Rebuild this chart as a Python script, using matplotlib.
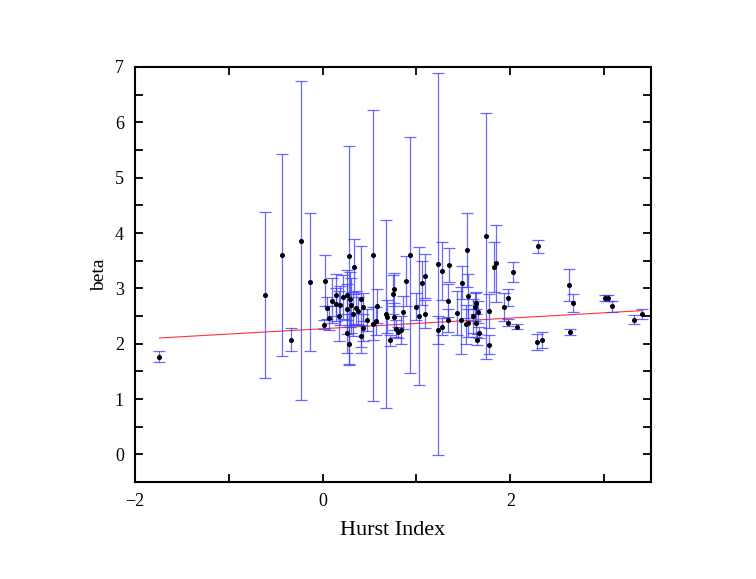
import matplotlib
matplotlib.use('Agg')
import matplotlib.pyplot as plt
from matplotlib.ticker import MultipleLocator
import numpy as np

# data -----------------------------------------------------------------------
hurst = [-1.74, -0.61, -0.43, -0.34, -0.23, -0.135, 0.02, 0.01, 0.05, 0.07,
         0.10, 0.14, 0.14, 0.17, 0.18, 0.22, 0.255, 0.28, 0.29, 0.30,
         0.255, 0.28, 0.26, 0.32, 0.33, 0.36, 0.375, 0.41, 0.41, 0.43,
         0.43, 0.47, 0.54, 0.535, 0.58, 0.57, 0.68, 0.69, 0.75, 0.76,
         0.76, 0.72, 0.78, 0.80, 0.855, 0.84, 0.89, 0.93, 1.00, 1.03,
         1.06, 1.09, 1.09, 1.23, 1.23, 1.27, 1.27, 1.34, 1.34, 1.35,
         1.43, 1.47, 1.49, 1.54, 1.55, 1.53, 1.55, 1.60, 1.62, 1.64,
         1.63, 1.66, 1.67, 1.65, 1.74, 1.77, 1.77, 1.83, 1.85, 1.93,
         1.98, 1.98, 2.03, 2.07, 2.30, 2.29, 2.34, 2.63, 2.67, 2.64,
         3.01, 3.04, 3.08, 3.32, 3.40]
beta = [1.76, 2.88, 3.60, 2.07, 3.86, 3.11, 3.14, 2.34, 2.64, 2.46,
        2.78, 2.88, 2.71, 2.50, 2.69, 2.85, 2.88, 3.59, 2.80, 2.69,
        2.19, 1.99, 2.62, 2.54, 3.39, 2.65, 2.59, 2.80, 2.14, 2.66,
        2.29, 2.43, 3.60, 2.36, 2.68, 2.41, 2.53, 2.49, 2.89, 2.98,
        2.49, 2.06, 2.27, 2.21, 2.57, 2.25, 3.13, 3.60, 2.67, 2.50,
        3.09, 3.22, 2.54, 3.44, 2.25, 3.31, 2.31, 2.78, 2.42, 3.42,
        2.55, 2.42, 3.10, 3.69, 2.86, 2.35, 2.37, 2.50, 2.66, 2.74,
        2.37, 2.58, 2.20, 2.07, 3.94, 2.59, 1.98, 3.38, 3.45, 2.66,
        2.83, 2.38, 3.29, 2.31, 3.76, 2.03, 2.07, 3.06, 2.73, 2.21,
        2.83, 2.83, 2.68, 2.43, 2.54]
beta_err = [0.10, 1.50, 1.82, 0.21, 2.88, 1.25, 0.46, 0.08, 0.20, 0.22,
            0.40, 0.38, 0.30, 0.45, 0.35, 0.40, 0.45, 1.98, 0.50, 0.50,
            0.35, 0.35, 0.45, 0.40, 0.50, 0.30, 0.25, 0.96, 0.20, 0.25,
            0.25, 0.20, 2.63, 0.30, 0.30, 0.25, 1.70, 0.30, 0.35, 0.30,
            0.25, 0.10, 0.15, 0.10, 0.30, 0.25, 0.45, 2.13, 0.25, 1.24,
            0.40, 0.40, 0.25, 3.45, 0.25, 0.52, 0.15, 0.30, 0.20, 0.30,
            0.40, 0.60, 0.30, 0.67, 0.40, 0.35, 0.25, 0.30, 0.25, 0.20,
            0.25, 0.20, 0.10, 0.10, 2.22, 0.30, 0.17, 0.45, 0.69, 0.25,
            0.15, 0.06, 0.18, 0.04, 0.12, 0.15, 0.14, 0.29, 0.16, 0.05,
            0.05, 0.05, 0.10, 0.08, 0.09]

# linear fit shown as the red line (slope, intercept)
fit_coef = [0.096, 2.27]
# --------------------------------------------------------------------------

plt.rcParams['font.family'] = ['Liberation Serif', 'DejaVu Serif']

fig = plt.figure(figsize=(7.56, 5.79), dpi=100)
ax = fig.add_axes([0.1786, 0.1675, 0.6825, 0.7168])

ax.errorbar(hurst, beta, yerr=beta_err, fmt='none', ecolor='#3a3aff',
            elinewidth=0.9, capsize=4, capthick=0.9, alpha=0.75, zorder=2)
ax.plot(hurst, beta, 'o', color='black', ms=2.6, zorder=3)

xs = np.array([min(hurst), max(hurst)])
ax.plot(xs, np.polyval(fit_coef, xs), color='red', lw=0.8, alpha=0.8, zorder=1)

ax.set_xlim(-2, 3.5)
ax.set_ylim(-0.5, 7)
ax.xaxis.set_major_locator(MultipleLocator(2))
ax.xaxis.set_minor_locator(MultipleLocator(1))
ax.yaxis.set_major_locator(MultipleLocator(1))
ax.yaxis.set_minor_locator(MultipleLocator(0.5))
ax.tick_params(which='both', direction='in', top=True, right=True,
               labelsize=13, width=1.3)
ax.tick_params(which='major', length=6, pad=8)
ax.tick_params(which='minor', length=6)
for s in ax.spines.values():
    s.set_linewidth(1.5)

ax.set_xlabel("Hurst Index", fontsize=16, labelpad=8)
ax.set_ylabel("beta", fontsize=14, labelpad=5)

plt.savefig("out.png", dpi=100)
